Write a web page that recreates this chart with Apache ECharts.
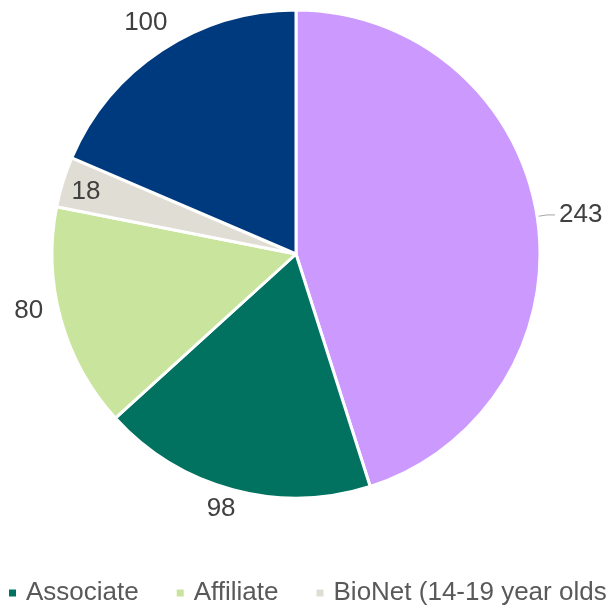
<!DOCTYPE html>
<html>
<head>
<meta charset="utf-8">
<script src="https://cdn.jsdelivr.net/npm/echarts@6/dist/echarts.min.js"></script>
<style>
html,body{margin:0;padding:0;background:#fff;}
#main{width:606px;height:610px;}
</style>
</head>
<body>
<div id="main"></div>
<script>
// Data (drawing order: clockwise from 12 o'clock)
const categories = ['Member', 'Associate', 'Affiliate', 'BioNet (14-19 year olds)', 'Fellow'];
const values = [243, 98, 80, 18, 100];
const colors = ['#cc99ff', '#00725f', '#c9e59d', '#e0ddd4', '#003a7e'];
const legendOrder = ['Associate', 'Affiliate', 'BioNet (14-19 year olds)', 'Fellow', 'Member'];

// label placement tuning per slice (style only)
const labelTweaks = [
  { len: 10, len2: 8, dist: 4, line: true },
  { len: 20, len2: 0, dist: -8, line: false },
  { len: -31.5, len2: 0, dist: 48, line: false },
  { len: -35, len2: 0, dist: -4, line: false },
  { len: 33, len2: 0, dist: -24, line: false }
];

const chart = echarts.init(document.getElementById('main'), null, { renderer: 'canvas' });

const seriesData = categories.map((name, i) => ({
  name: name,
  value: values[i],
  itemStyle: { color: colors[i] },
  label: { distanceToLabelLine: labelTweaks[i].dist },
  labelLine: {
    show: labelTweaks[i].line,
    length: labelTweaks[i].len,
    length2: labelTweaks[i].len2
  }
}));

chart.setOption({
  animation: false,
  legend: {
    data: legendOrder,
    orient: 'horizontal',
    left: 2,
    top: 575,
    width: 3000,
    icon: 'rect',
    itemWidth: 9,
    itemHeight: 9,
    itemGap: 36,
    textStyle: {
      fontFamily: 'Liberation Sans, Arial, sans-serif',
      fontSize: 26,
      color: '#595959',
      padding: [0, 0, 0, 4]
    }
  },
  series: [{
    type: 'pie',
    center: [296, 254],
    radius: [0, 244],
    startAngle: 90,
    clockwise: true,
    avoidLabelOverlap: false,
    data: seriesData,
    itemStyle: { borderColor: '#ffffff', borderWidth: 3 },
    label: {
      show: true,
      position: 'outside',
      formatter: '{c}',
      fontFamily: 'Liberation Sans, Arial, sans-serif',
      fontSize: 26,
      color: '#404040'
    },
    labelLine: {
      lineStyle: { color: '#a6a6a6', width: 1 }
    },
    emphasis: { disabled: true }
  }]
});
</script>
</body>
</html>
